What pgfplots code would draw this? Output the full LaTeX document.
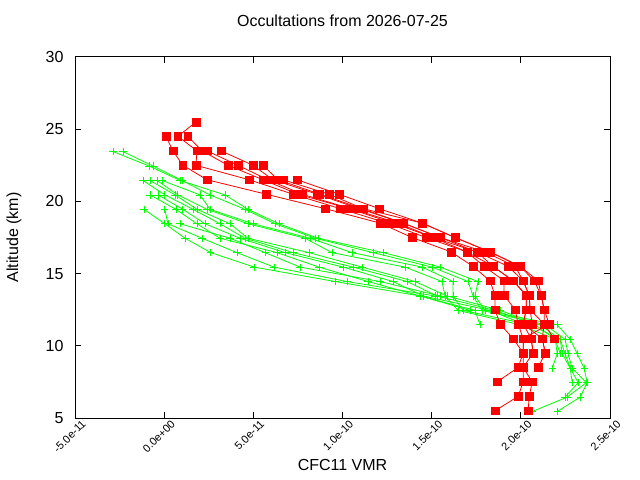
\documentclass[border=0pt]{standalone}
\usepackage{fontspec}
\setmainfont{Liberation Sans}
\usepackage{pgfplots}
\pgfplotsset{compat=1.18}
\definecolor{gred}{RGB}{255,0,0}
\definecolor{ggreen}{RGB}{0,255,0}
\begin{document}
\begin{tikzpicture}
\useasboundingbox (0,0) rectangle (640bp,480bp);
\begin{axis}[
  at={(75bp,62bp)}, anchor=south west,
  scale only axis, width=535bp, height=361bp,
  xmin=-0.5, xmax=2.5, ymin=5, ymax=30,
  xtick={-0.5,0,0.5,1,1.5,2,2.5},
  xticklabels={-5.0e-11,0.0e+00,5.0e-11,1.0e-10,1.5e-10,2.0e-10,2.5e-10},
  ytick={5,10,15,20,25,30},
  tick align=inside, major tick length=6bp,
  axis line style={line width=1bp},
  every tick/.style={black, line width=1bp},
  /pgf/number format/assume math mode=true,
  yticklabel style={font=\fontsize{16bp}{18bp}\selectfont, xshift=-8bp},
  xticklabel style={font=\fontsize{11bp}{13bp}\selectfont, inner sep=0pt, xshift=9bp, yshift=-4bp, rotate=45, anchor=east},
  title={Occultations from 2026-07-25},
  title style={font=\fontsize{16bp}{18bp}\selectfont, at={(axis description cs:0.5,1.083)}, anchor=center},
  xlabel={CFC11 VMR},
  xlabel style={font=\fontsize{16bp}{18bp}\selectfont, at={(axis description cs:0.5,-0.130)}, anchor=center},
  ylabel={Altitude (km)},
  ylabel style={font=\fontsize{16bp}{18bp}\selectfont, at={(axis description cs:-0.114,0.5)}, anchor=center},
  gplot/.style={color=ggreen, line width=0.8bp, mark=+, mark size=3.6bp, mark options={line width=0.8bp}},
  rplot/.style={color=gred, line width=0.8bp, mark=square*, mark size=3.8bp, mark options={fill=gred, draw=gred, line width=0.4bp}},
]
% green profiles
\addplot[gplot] coordinates {(-0.287,23.45)(-0.085,22.45)(0.089,21.45)(0.341,20.45)(0.470,19.45)(0.644,18.45)(0.863,17.45)(1.227,16.45)(1.547,15.45)(1.760,14.45)(1.743,13.45)(1.799,12.45)(2.204,11.45)(2.277,10.45)(2.316,9.45)(2.355,8.45)(2.372,7.45)(2.333,6.45)(2.204,5.45)};
\addplot[gplot] coordinates {(-0.231,23.45)(-0.063,22.45)(0.100,21.45)(0.257,20.45)(0.453,19.45)(0.622,18.45)(0.846,17.45)(1.171,16.45)(1.502,15.45)(1.704,14.45)(1.732,13.45)(1.782,12.45)(2.137,11.45)(2.248,10.45)(2.265,9.45)(2.288,8.45)(2.367,7.45)(2.260,6.45)(2.064,5.45)};
\addplot[gplot] coordinates {(-0.012,21.45)(0.201,20.45)(0.257,19.45)(0.498,18.45)(0.818,17.45)(1.053,16.45)(1.446,15.45)(1.620,14.45)(1.620,13.45)(1.676,12.45)(2.052,11.45)(2.221,10.45)(2.232,9.45)(2.277,8.45)(2.322,7.45)(2.248,6.45)};
\addplot[gplot] coordinates {(-0.040,21.45)(0.077,20.45)(0.240,19.45)(0.470,18.45)(0.790,17.45)(0.941,16.45)(1.351,15.45)(1.558,14.45)(1.575,13.45)(1.648,12.45)(1.996,11.45)(2.193,10.45)(2.204,9.45)(2.176,8.45)};
\addplot[gplot] coordinates {(-0.080,21.45)(0.061,20.45)(0.184,19.45)(0.369,18.45)(0.470,17.45)(0.812,16.45)(1.109,15.45)(1.407,14.45)(1.586,13.45)(1.884,12.45)(2.108,11.45)(2.221,10.45)(2.248,9.45)(2.277,8.45)(2.288,7.45)};
\addplot[gplot] coordinates {(-0.119,21.45)(0.004,20.45)(0.162,19.45)(0.313,18.45)(0.453,17.45)(0.722,16.45)(1.059,15.45)(1.362,14.45)(1.530,13.45)(1.855,12.45)(2.081,11.45)(2.193,10.45)(2.221,9.45)};
\addplot[gplot] coordinates {(-0.035,20.45)(0.105,19.45)(0.229,18.45)(0.425,17.45)(0.678,16.45)(1.003,15.45)(1.283,14.45)(1.452,13.45)(1.827,12.45)(2.025,11.45)};
\addplot[gplot] coordinates {(-0.080,20.45)(0.066,19.45)(0.184,18.45)(0.313,17.45)(0.633,16.45)(0.868,15.45)(1.143,14.45)(1.435,13.45)(1.743,12.45)(1.771,11.45)};
\addplot[gplot] coordinates {(-0.113,19.45)(0.004,18.45)(0.117,17.45)(0.262,16.45)(0.504,15.45)(0.958,14.45)(1.435,13.45)(1.715,12.45)};
\addplot[gplot] coordinates {(0.004,19.45)(0.021,18.45)(0.212,17.45)(0.408,16.45)(0.616,15.45)(1.025,14.45)(1.519,13.45)};
\addplot[gplot] coordinates {(0.089,18.45)(0.369,17.45)(0.566,16.45)(0.762,15.45)(1.210,14.45)(1.547,13.45)};
% red profiles
\addplot[rplot] coordinates {(0.010,24.5)(0.049,23.5)(0.105,22.5)(0.240,21.5)(0.571,20.5)(0.902,19.5)(1.210,18.5)(1.390,17.5)(1.609,16.5)(1.732,15.5)(1.827,14.5)(1.855,13.5)(1.855,12.5)(1.884,11.5)(1.957,10.5)(2.013,9.5)(1.985,8.5)(1.867,7.5)};
\addplot[rplot] coordinates {(0.178,25.5)(0.077,24.5)(0.184,23.5)(0.178,22.5)(0.476,21.5)(0.722,20.5)(0.986,19.5)(1.250,18.5)(1.468,17.5)(1.698,16.5)(1.794,15.5)(1.906,14.5)(1.906,13.5)(1.968,12.5)(1.985,11.5)(2.013,10.5)(2.013,9.5)(2.013,8.5)(2.013,7.5)(1.985,6.5)(1.855,5.5)};
\addplot[rplot] coordinates {(0.133,24.5)(0.212,23.5)(0.358,22.5)(0.554,21.5)(0.750,20.5)(1.036,19.5)(1.283,18.5)(1.508,17.5)(1.698,16.5)(1.844,15.5)(1.957,14.5)(2.030,13.5)(2.030,12.5)(2.013,11.5)(2.058,10.5)(2.069,9.5)(2.013,8.5)(2.064,7.5)(2.047,6.5)(2.041,5.5)};
\addplot[rplot] coordinates {(0.240,23.5)(0.414,22.5)(0.582,21.5)(0.773,20.5)(1.045,19.5)(1.311,18.5)(1.508,17.5)(1.754,16.5)(1.844,15.5)(1.957,14.5)(2.030,13.5)(2.030,12.5)(2.013,11.5)(2.120,10.5)(2.137,9.5)(2.097,8.5)};
\addplot[rplot] coordinates {(0.319,23.5)(0.498,22.5)(0.610,21.5)(0.857,20.5)(1.093,19.5)(1.339,18.5)(1.547,17.5)(1.754,16.5)(1.929,15.5)(2.013,14.5)(2.047,13.5)(2.052,12.5)(2.064,11.5)(2.058,10.5)(2.069,9.5)};
\addplot[rplot] coordinates {(0.554,22.5)(0.638,21.5)(0.873,20.5)(1.109,19.5)(1.339,18.5)(1.547,17.5)(1.799,16.5)(1.968,15.5)(2.013,14.5)(2.047,13.5)(2.052,12.5)(2.131,11.5)(2.120,10.5)(2.137,9.5)};
\addplot[rplot] coordinates {(0.666,21.5)(0.924,20.5)(1.115,19.5)(1.446,18.5)(1.631,17.5)(1.827,16.5)(1.996,15.5)(2.075,14.5)(2.114,13.5)(2.131,12.5)(2.131,11.5)(2.186,10.5)};
\addplot[rplot] coordinates {(0.745,21.5)(0.980,20.5)(1.205,19.5)(1.446,18.5)(1.631,17.5)(1.827,16.5)(1.996,15.5)(2.097,14.5)(2.114,13.5)(2.131,12.5)(2.159,11.5)(2.013,10.5)(2.013,9.5)};
\end{axis}
\end{tikzpicture}
\end{document}
